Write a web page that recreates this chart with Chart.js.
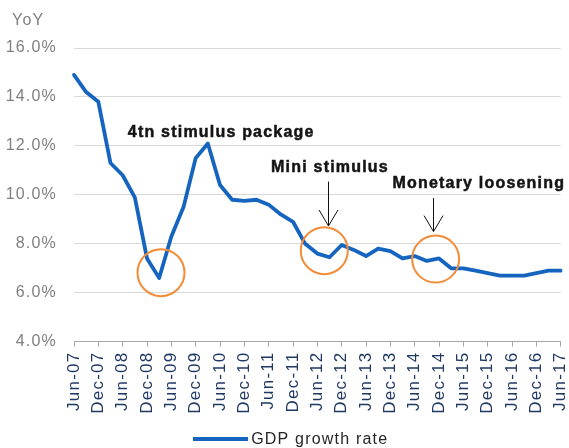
<!DOCTYPE html>
<html>
<head>
<meta charset="utf-8">
<script src="https://cdn.jsdelivr.net/npm/chart.js@4/dist/chart.umd.min.js"></script>
<style>
  html, body { margin: 0; padding: 0; background: #ffffff; overflow: hidden; }
  #wrap { position: relative; width: 569px; height: 460px; }
</style>
</head>
<body>
<div id="wrap"><canvas id="c"></canvas></div>
<script>
// ---- data ----
const quarters = ['Jun-07','Sep-07','Dec-07','Mar-08','Jun-08','Sep-08','Dec-08','Mar-09','Jun-09','Sep-09',
  'Dec-09','Mar-10','Jun-10','Sep-10','Dec-10','Mar-11','Jun-11','Sep-11','Dec-11','Mar-12',
  'Jun-12','Sep-12','Dec-12','Mar-13','Jun-13','Sep-13','Dec-13','Mar-14','Jun-14','Sep-14',
  'Dec-14','Mar-15','Jun-15','Sep-15','Dec-15','Mar-16','Jun-16','Sep-16','Dec-16','Mar-17','Jun-17'];
const gdpGrowth = [14.9, 14.2, 13.8, 11.3, 10.8, 9.9, 7.4, 6.6, 8.3, 9.5,
  11.5, 12.1, 10.4, 9.8, 9.75, 9.8, 9.6, 9.2, 8.9, 8.0,
  7.6, 7.45, 7.95, 7.75, 7.5, 7.8, 7.7, 7.4, 7.5, 7.3,
  7.4, 7.0, 7.0, 6.9, 6.8, 6.7, 6.7, 6.7, 6.8, 6.9, 6.9];
const seriesName = 'GDP growth rate';
const yTicks = [4, 6, 8, 10, 12, 14, 16];
const yUnit = 'YoY';

// annotations (in data coordinates: category index, value)
const noteTexts = ['4tn stimulus package', 'Mini stimulus', 'Monetary loosening'];
const noteAt = [12.1, 21.04, 33.27];
const noteLevel = [12.38, 10.95, 10.27];
const arrowAt = [20.9, 29.53];
const arrowFrom = [10.54, 9.87];
const arrowTo = [8.73, 8.5];
const circleAt = [7.15, 20.57, 29.72];
const circleLevel = [6.82, 7.72, 7.38];

// ---- styles ----
const FONT = "'Liberation Sans', Arial, sans-serif";
const BLUE = '#1565C0';
const ORANGE = '#F28C38';
Chart.defaults.font.family = FONT;

const legendLine = document.createElement('canvas');
legendLine.width = 55; legendLine.height = 4;
(function(){ const g = legendLine.getContext('2d'); g.fillStyle = BLUE; g.fillRect(0, 0, 55, 4); })();

const spacingPlugin = {
  id: 'spacing',
  beforeLayout(chart) { chart.ctx.letterSpacing = '1.2px'; },
  afterLayout(chart) {
    // Excel-like legend placement (slightly right of centre)
    if (chart.legend) { chart.legend.left += 12.4; chart.legend.right += 12.4; }
  },
  beforeDraw(chart) { chart.ctx.letterSpacing = '1.2px'; }
};

const notesPlugin = {
  id: 'notes',
  afterDatasetsDraw(chart) {
    const { ctx, scales: { x, y } } = chart;
    ctx.save();
    ctx.letterSpacing = '1.2px';
    // circles
    ctx.strokeStyle = ORANGE;
    ctx.lineWidth = 2;
    circleAt.forEach((c, i) => {
      ctx.beginPath();
      ctx.arc(x.getPixelForValue(c), y.getPixelForValue(circleLevel[i]), 23.5, 0, Math.PI * 2);
      ctx.stroke();
    });
    // arrows
    ctx.strokeStyle = '#111111';
    ctx.lineWidth = 1;
    arrowAt.forEach((a, i) => {
      const px = Math.round(x.getPixelForValue(a)) + 0.5;
      const y0 = y.getPixelForValue(arrowFrom[i]);
      const y1 = y.getPixelForValue(arrowTo[i]);
      ctx.beginPath();
      ctx.moveTo(px, y0); ctx.lineTo(px, y1);
      ctx.moveTo(px - 9.5, y1 - 16); ctx.lineTo(px, y1); ctx.lineTo(px + 9.5, y1 - 16);
      ctx.stroke();
    });
    // texts
    ctx.fillStyle = '#141414';
    ctx.strokeStyle = '#141414';
    ctx.lineWidth = 0.5;
    ctx.font = 'bold 16px ' + FONT;
    ctx.textAlign = 'center';
    ctx.textBaseline = 'alphabetic';
    noteTexts.forEach((t, i) => {
      const tx = x.getPixelForValue(noteAt[i]);
      const ty = y.getPixelForValue(noteLevel[i]);
      ctx.fillText(t, tx, ty);
      ctx.strokeText(t, tx, ty);
    });
    // unit label
    ctx.fillStyle = '#808080';
    ctx.font = '16px ' + FONT;
    ctx.textAlign = 'left';
    ctx.fillText(yUnit, 12, 25);
    ctx.restore();
  }
};

new Chart(document.getElementById('c'), {
  type: 'line',
  data: {
    labels: quarters,
    datasets: [{
      label: seriesName,
      data: gdpGrowth,
      borderColor: BLUE,
      backgroundColor: BLUE,
      borderWidth: 3.8,
      borderJoinStyle: 'round',
      borderCapStyle: 'round',
      pointRadius: 0,
      tension: 0,
      fill: false
    }]
  },
  options: {
    responsive: true,
    maintainAspectRatio: false,
    animation: false,
    layout: { padding: { left: 0, right: 8.3, top: 48, bottom: 2.7 } },
    plugins: {
      legend: {
        position: 'bottom',
        labels: {
          usePointStyle: true, pointStyle: legendLine, pointStyleWidth: 46,
          color: '#262626', font: { size: 16 }, padding: 10
        }
      },
      tooltip: { enabled: false }
    },
    scales: {
      x: {
        grid: {
          drawOnChartArea: false, tickLength: 5,
          color: (c) => (c.index % 2 === 0 ? '#a6a6a6' : 'rgba(0,0,0,0)')
        },
        border: { color: '#a6a6a6' },
        ticks: {
          autoSkip: false, maxRotation: 90, minRotation: 90, padding: 5,
          color: '#1f3864', font: { size: 17 },
          callback: (v, i) => (i % 2 === 0 ? quarters[i] : '')
        },
        afterFit: (s) => { s.height = 79.6; s.paddingLeft = 0; s.paddingRight = 0; }
      },
      y: {
        min: yTicks[0], max: yTicks[yTicks.length - 1],
        afterBuildTicks: (s) => { s.ticks = yTicks.map(v => ({ value: v })); },
        ticks: {
          padding: 17, color: '#808080', font: { size: 16 },
          callback: (v) => Number(v).toFixed(1) + '%'
        },
        grid: { color: '#d9d9d9', drawTicks: false },
        border: { display: false },
        afterFit: (s) => { s.width = 74; }
      }
    }
  },
  plugins: [spacingPlugin, notesPlugin]
});
</script>
</body>
</html>
